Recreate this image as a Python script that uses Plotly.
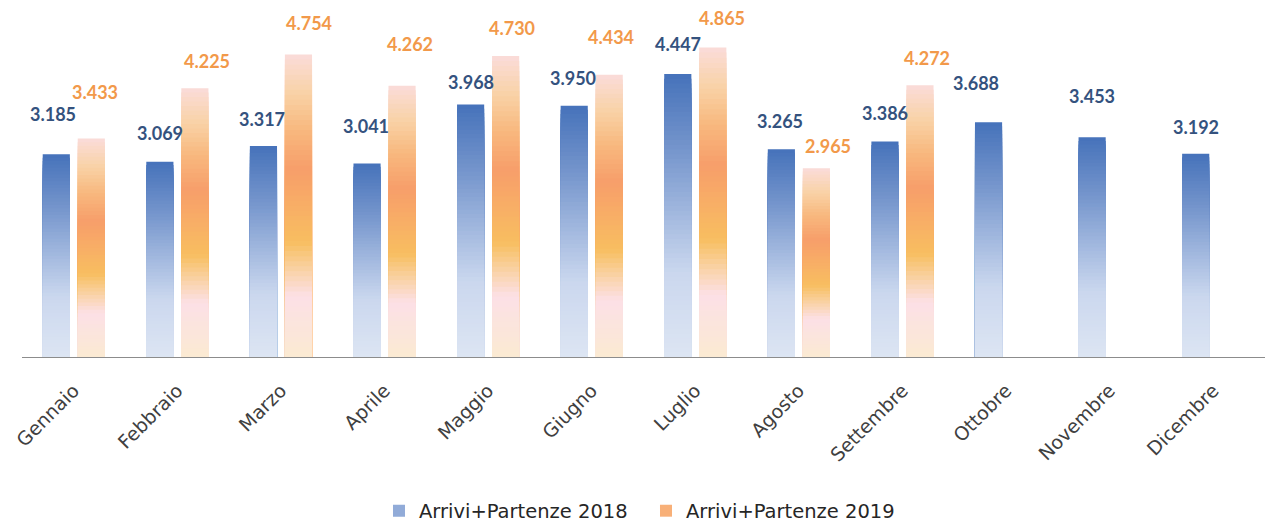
import plotly.graph_objects as go

months = ["Gennaio", "Febbraio", "Marzo", "Aprile", "Maggio", "Giugno",
          "Luglio", "Agosto", "Settembre", "Ottobre", "Novembre", "Dicembre"]
val_2018 = [3.185, 3.069, 3.317, 3.041, 3.968, 3.950, 4.447, 3.265, 3.386, 3.688, 3.453, 3.192]
val_2019 = [3.433, 4.225, 4.754, 4.262, 4.730, 4.434, 4.865, 2.965, 4.272, None, None, None]
name_2018 = "Arrivi+Partenze 2018"
name_2019 = "Arrivi+Partenze 2019"

# label placement tweaks (pixels) - style only
lab18_dx = [-3, 0, -1, -1, 0, -1, 0, -1, 0, -13, 0, 0]
lab18_dy = [27, 16, 14, 24, 9, 15, 17, 15, 16, 26, 28, 14]
lab19_dx = [4, 12, 11, 8, 6, 2, 9, 12, 7]
lab19_dy = [34, 14, 18, 29, 15, 25, 16, 9, 14]

blue_stops = [(0.0, "#DDE5F3"), (0.3, "#CAD7EE"), (0.5, "#A3B9DF"),
              (0.75, "#7293CB"), (1.0, "#4672BA")]
orange_stops = [(0.0, "#FBEAD2"), (0.10, "#FBE5DC"), (0.20, "#FCE0E6"),
                (0.30, "#F9D09C"), (0.38, "#F8BE60"), (0.50, "#F8AE66"),
                (0.62, "#F79E6A"), (0.75, "#F8B87E"), (0.87, "#F9D2A6"),
                (1.0, "#FADCDA")]


def hex2rgb(h):
    h = h.lstrip("#")
    return tuple(int(h[i:i + 2], 16) for i in (0, 2, 4))


def grad(stops, f):
    for (p0, c0), (p1, c1) in zip(stops[:-1], stops[1:]):
        if p0 <= f <= p1:
            t = (f - p0) / (p1 - p0) if p1 > p0 else 0
            a, b = hex2rgb(c0), hex2rgb(c1)
            return "rgb(%d,%d,%d)" % tuple(round(a[i] + (b[i] - a[i]) * t) for i in range(3))
    return stops[-1][1]


N = 60
BAR_W = 0.262
fig = go.Figure()


def add_series(vals, stops, name, offset, legend_frac):
    leg_k = int(round((1 - legend_frac) * N))
    for k in range(N):
        top = 1 - k / N
        ys = [None if v is None else v * top for v in vals]
        fig.add_trace(go.Bar(
            x=months, y=ys, name=name, legendgroup=name,
            showlegend=(k == leg_k),
            marker=dict(color=grad(stops, top - 0.5 / N), line=dict(width=0)),
            width=BAR_W, offset=offset, hoverinfo="skip",
        ))


add_series(val_2018, blue_stops, name_2018, -0.3, 0.6)
add_series(val_2019, orange_stops, name_2019, 0.038, 0.72)

annotations = []
for i, v in enumerate(val_2018):
    annotations.append(dict(
        x=i, y=v, xref="x", yref="y", text="%.3f" % v, showarrow=False,
        xanchor="center", yanchor="bottom",
        xshift=-17.5 + lab18_dx[i], yshift=lab18_dy[i],
        font=dict(family="Lato", size=18, color="#34527E", weight="bold")))
for i, v in enumerate(val_2019):
    if v is None:
        continue
    annotations.append(dict(
        x=i, y=v, xref="x", yref="y", text="%.3f" % v, showarrow=False,
        xanchor="center", yanchor="bottom",
        xshift=17.5 + lab19_dx[i], yshift=lab19_dy[i],
        font=dict(family="Lato", size=18, color="#F2994A", weight="bold")))

fig.update_layout(
    width=1265, height=522,
    margin=dict(l=22, r=0, t=7, b=165, autoexpand=False),
    barmode="overlay",
    plot_bgcolor="white", paper_bgcolor="white",
    font=dict(family="DejaVu Sans", size=19, color="#404040"),
    showlegend=True,
    legend=dict(orientation="h", x=0.2872, xanchor="left", y=-0.44, yanchor="middle",
                font=dict(family="DejaVu Sans", size=19.5, color="#262626"),
                traceorder="normal", entrywidth=222, entrywidthmode="pixels"),
    annotations=annotations,
)
fig.update_xaxes(type="category", tickangle=-45, showline=True, linecolor="#8C8C8C",
                 linewidth=1, ticks="", showgrid=False, range=[-0.5, 11.5],
                 automargin=False, ticklabelstandoff=14,
                 tickfont=dict(family="DejaVu Sans", size=19, color="#404040"))
fig.update_yaxes(range=[0, 5.5], visible=False, showgrid=False, automargin=False)

fig.write_html("out.html", config={"displayModeBar": False},
               post_script="document.body.style.margin='0';")
